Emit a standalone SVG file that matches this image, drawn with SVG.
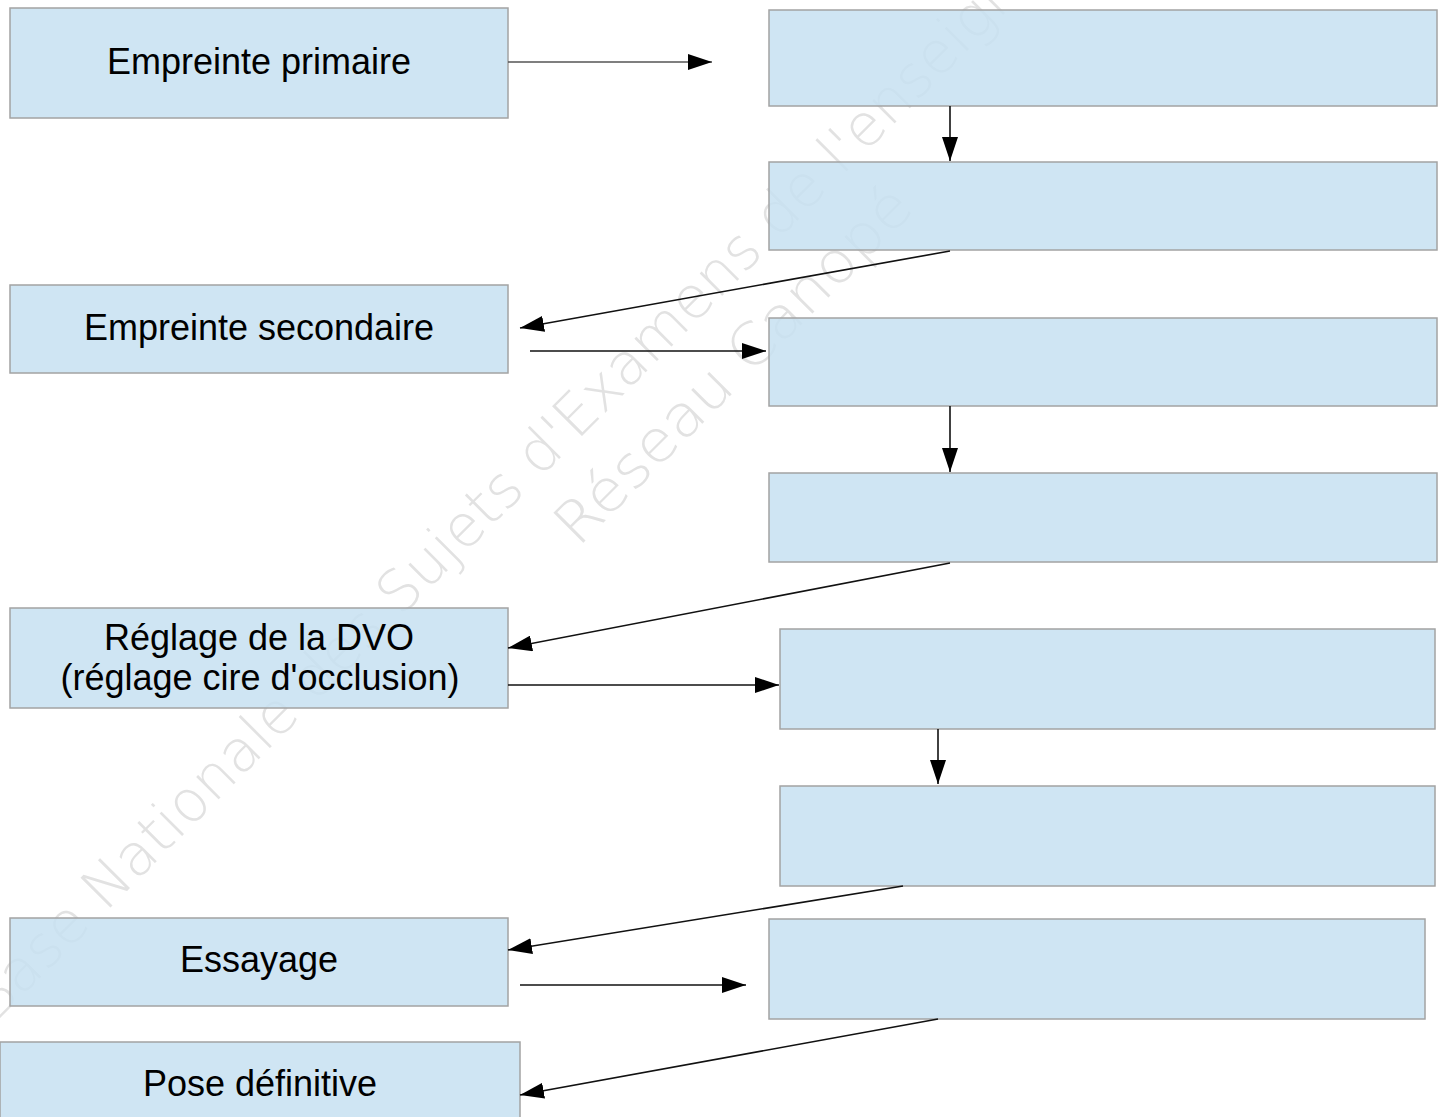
<svg xmlns="http://www.w3.org/2000/svg" width="1447" height="1117" viewBox="0 0 1447 1117">
  <style>
    .box { fill: rgb(199,224,241); fill-opacity: 0.85; stroke: #a3a3a3; stroke-width: 1.5; }
    .lbl { font-family: "Liberation Sans", Arial, sans-serif; font-size: 36px; fill: #000; text-anchor: middle; }
    .conn { stroke: #111; stroke-width: 1.6; fill: none; marker-end: url(#ah); }
    .wm { font-family: "DejaVu Sans", "Liberation Sans", sans-serif; font-weight: 200; font-size: 58px; fill: #e2e2e2; }
  </style>
  <defs>
    <marker id="ah" markerUnits="userSpaceOnUse" markerWidth="24" markerHeight="16" refX="24" refY="8" orient="auto">
      <path d="M0,0 L24,8 L0,16 z" fill="#000"/>
    </marker>
  </defs>
  <rect width="1447" height="1117" fill="#fff"/>

  <g id="watermark">
    <text class="wm" transform="translate(-6,1024) rotate(-45)">Base Nationale des Sujets d'Examens de l'enseignement professionnel</text>
    <text class="wm" transform="translate(578,548) rotate(-45)" textLength="478" lengthAdjust="spacingAndGlyphs">Réseau Canopé</text>
  </g>

  <g id="nodes">
    <g id="n-empreinte-primaire">
      <rect class="box" x="10" y="8" width="498" height="110"/>
      <text class="lbl" x="259" y="74">Empreinte primaire</text>
    </g>
    <g id="r1"><rect class="box" x="769" y="10" width="668" height="96"/></g>
    <g id="r2"><rect class="box" x="769" y="162" width="668" height="88"/></g>
    <g id="n-empreinte-secondaire">
      <rect class="box" x="10" y="285" width="498" height="88"/>
      <text class="lbl" x="259" y="340">Empreinte secondaire</text>
    </g>
    <g id="r3"><rect class="box" x="769" y="318" width="668" height="88"/></g>
    <g id="r4"><rect class="box" x="769" y="473" width="668" height="89"/></g>
    <g id="n-reglage">
      <rect class="box" x="10" y="608" width="498" height="100"/>
      <text class="lbl" x="259" y="650">Réglage de la DVO</text>
      <text class="lbl" x="260" y="690">(réglage cire d'occlusion)</text>
    </g>
    <g id="r5"><rect class="box" x="780" y="629" width="655" height="100"/></g>
    <g id="r6"><rect class="box" x="780" y="786" width="655" height="100"/></g>
    <g id="n-essayage">
      <rect class="box" x="10" y="918" width="498" height="88"/>
      <text class="lbl" x="259" y="972">Essayage</text>
    </g>
    <g id="r7"><rect class="box" x="769" y="919" width="656" height="100"/></g>
    <g id="n-pose">
      <rect class="box" x="0" y="1042" width="520" height="90"/>
      <text class="lbl" x="260" y="1096">Pose définitive</text>
    </g>
  </g>

  <g id="connectors">
    <path class="conn" d="M508,62 H712" style="stroke:#555"/>
    <path class="conn" d="M950,106 V161"/>
    <path class="conn" d="M950,251 L520,328"/>
    <path class="conn" d="M530,351 H766"/>
    <path class="conn" d="M950,406 V472"/>
    <path class="conn" d="M950,563 L508,648"/>
    <path class="conn" d="M508,685 H779"/>
    <path class="conn" d="M938,729 V784"/>
    <path class="conn" d="M903,886 L508,950"/>
    <path class="conn" d="M520,985 H746"/>
    <path class="conn" d="M938,1019 L520,1095"/>
  </g>
</svg>
